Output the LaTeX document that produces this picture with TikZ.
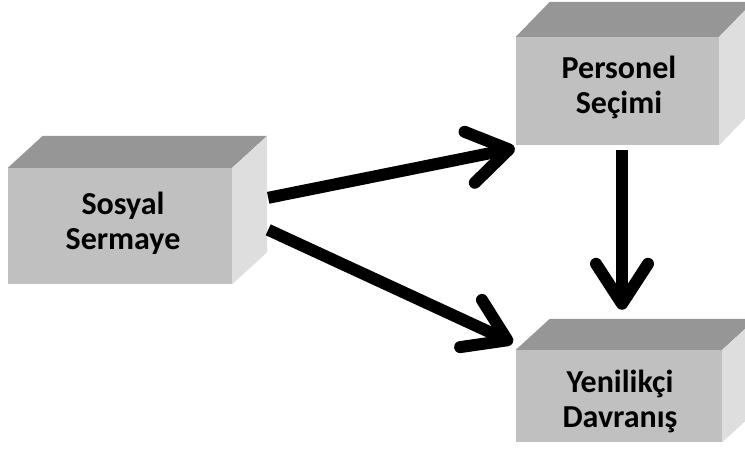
\documentclass[tikz,border=0pt]{standalone}
\usepackage{fontspec}
\setmainfont{Carlito}
\usetikzlibrary{calc,arrows.meta}
\definecolor{frontgray}{RGB}{192,192,192}
\definecolor{topgray}{RGB}{150,150,150}
\definecolor{sidegray}{RGB}{222,222,222}
\tikzset{
  face/.style={draw=none, fill=frontgray, inner sep=0pt},
  caption/.style={inner sep=0pt, anchor=base,
    font=\fontsize{32}{35}\selectfont\bfseries},
  topface/.style={fill=topgray},
  sideface/.style={fill=sidegray},
  flow/.style={line width=12pt, -{Straight Barb[length=40pt,width=52pt,round]}},
}
% two centred lines, anchored at the first baseline
\newcommand\twolines[2]{\begin{tabular}[t]{@{}c@{}}#1\\#2\end{tabular}}
% top and right faces of a block whose front face is node #1, depth (#2,#3)
\newcommand\blockfaces[3]{%
  \fill[topface] (#1.north west) -- ++(#2,#3) -- ($(#1.north east)+(#2,#3)$) -- (#1.north east) -- cycle;
  \fill[sideface] (#1.north east) -- ++(#2,#3) -- ($(#1.south east)+(#2,#3)$) -- (#1.south east) -- cycle;
}
\begin{document}
\begin{tikzpicture}[x=1pt,y=-1pt]
  \useasboundingbox (0,0) rectangle (745,456);
  \clip (0,0) rectangle (745,456);

  \node[face, minimum width=224pt, minimum height=116pt] (s) at (120,226) {};
  \node[face, minimum width=203pt, minimum height=108pt] (p) at (617.5,91) {};
  \node[face, minimum width=206pt, minimum height=92pt] (y) at (619,396) {};

  \blockfaces{s}{35}{-32}
  \blockfaces{p}{34}{-35}
  \blockfaces{y}{34}{-31}

  \node[caption] (s-text) at (123,214) {\twolines{Sosyal}{Sermaye}};
  \node[caption] (p-text) at (619,78) {\twolines{Personel}{Seçimi}};
  \node[caption] (y-text) at (620,392) {\twolines{Yenilikçi}{Davranış}};

  \coordinate (s-a) at ($(s.north east)+(36,30)$);
  \coordinate (s-b) at ($(s.north east)+(36,62)$);
  \coordinate (p-in) at ($(p.south west)+(-1,3)$);
  \coordinate (p-out) at ($(p.south)+(4.5,5)$);
  \coordinate (y-in1) at ($(y.north west)+(-3,-7)$);
  \coordinate (y-in2) at ($(y.north)+(3,-40)$);

  \draw[flow] (s-a) -- (p-in);
  \draw[flow] (s-b) -- (y-in1);
  \draw[flow] (p-out) -- (y-in2);
\end{tikzpicture}
\end{document}
